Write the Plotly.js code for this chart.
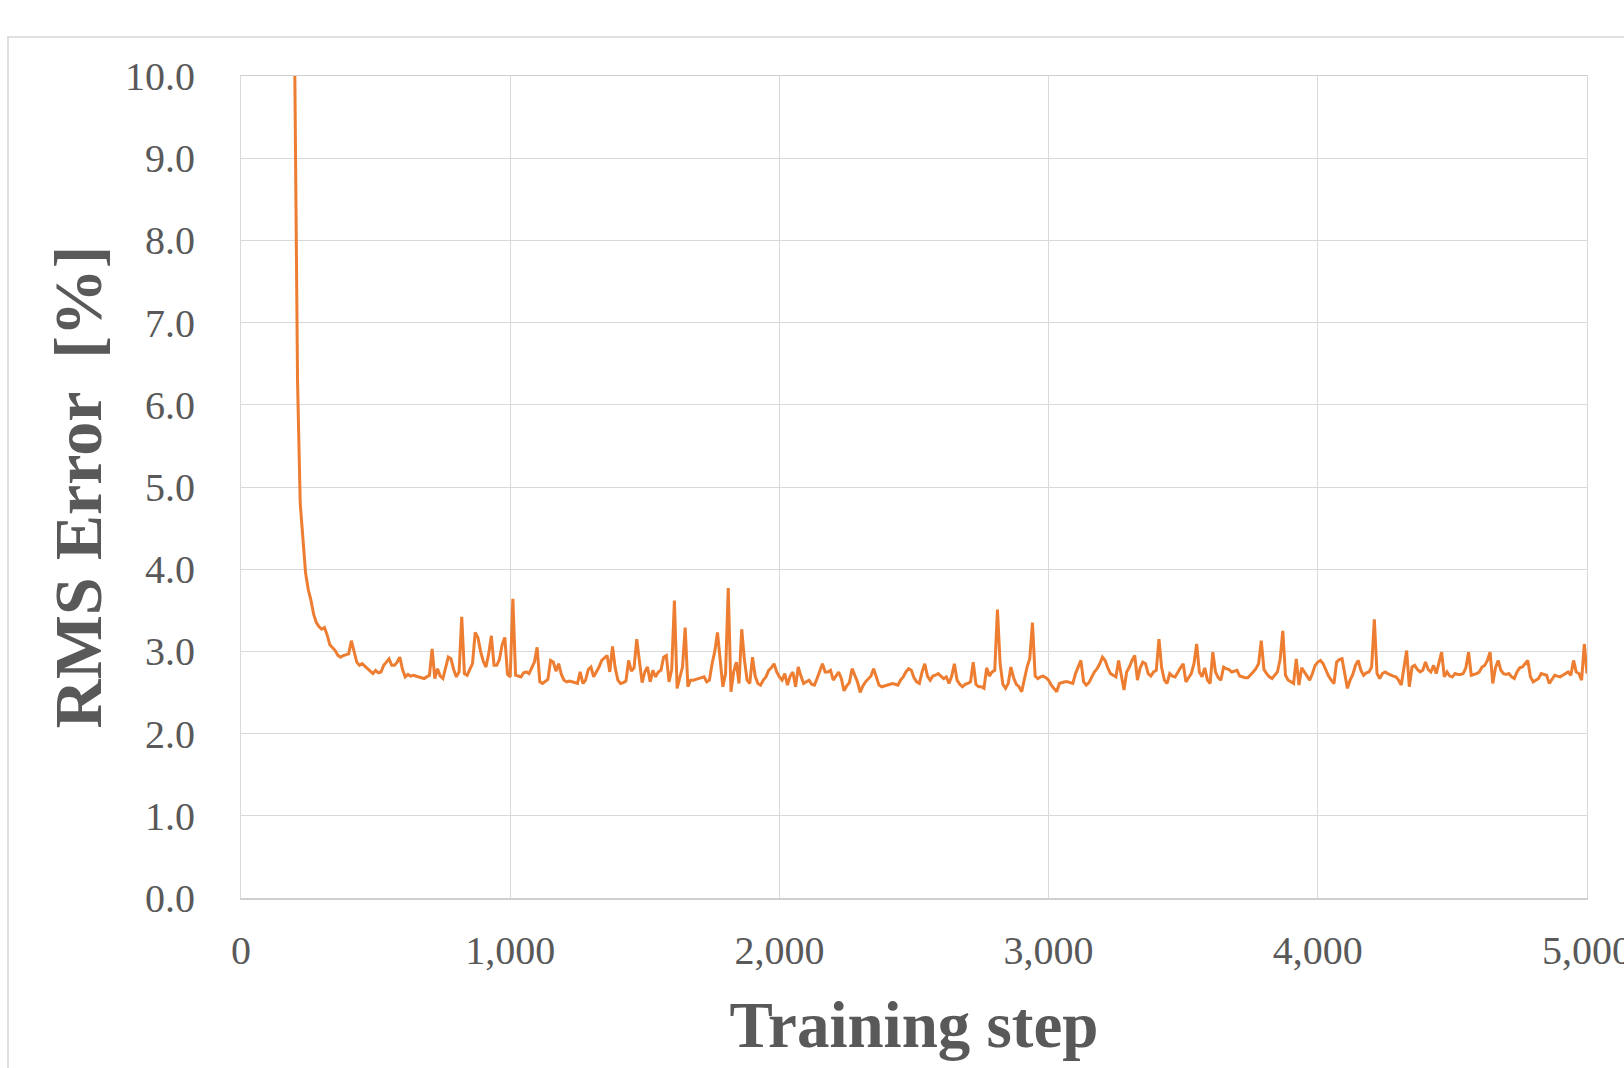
<!DOCTYPE html>
<html>
<head>
<meta charset="utf-8">
<script src="https://cdn.plot.ly/plotly-3.0.1.min.js"></script>
<style>
  html, body { margin: 0; padding: 0; background: #ffffff; }
  #wrap { position: relative; width: 1624px; height: 1068px; overflow: hidden; background: #ffffff; }
  #frame { position: absolute; left: 7px; top: 36px; width: 1700px; height: 1100px;
           border: 2px solid #e0e0e0; box-sizing: border-box; }
  #chart { position: absolute; left: 0; top: 0; width: 1624px; height: 1068px; }
</style>
</head>
<body>
<div id="wrap">
  <div id="frame"></div>
  <div id="chart"></div>
</div>
<script>
// Training steps of the early, steep part of the curve
const earlySteps = [200, 210, 220, 230, 240, 250, 260, 270, 280, 290];
const earlyRms   = [10.0, 6.3, 4.8, 4.35, 3.95, 3.75, 3.62, 3.45, 3.35, 3.30];

// RMS error [%] logged every 10 steps from step 300 to 5000
const logStart = 300;
const logInterval = 10;
const rmsError = [
  3.27, 3.29, 3.20, 3.08, 3.05, 3.01, 2.95, 2.93, 2.95, 2.96,
  2.97, 3.13, 3.00, 2.87, 2.83, 2.85, 2.82, 2.79, 2.77, 2.73,
  2.77, 2.74, 2.75, 2.83, 2.87, 2.91, 2.83, 2.83, 2.87, 2.93,
  2.78, 2.69, 2.72, 2.70, 2.71, 2.70, 2.69, 2.68, 2.67, 2.69,
  2.71, 3.03, 2.67, 2.79, 2.70, 2.67, 2.81, 2.93, 2.91, 2.78,
  2.69, 2.75, 3.42, 2.73, 2.71, 2.78, 2.85, 3.23, 3.17, 3.00,
  2.88, 2.81, 2.97, 3.19, 2.83, 2.83, 2.90, 3.08, 3.17, 2.72,
  2.69, 3.64, 2.71, 2.70, 2.69, 2.74, 2.75, 2.73, 2.80, 2.87,
  3.05, 2.63, 2.61, 2.64, 2.66, 2.89, 2.87, 2.76, 2.85, 2.72,
  2.65, 2.63, 2.64, 2.63, 2.62, 2.61, 2.75, 2.61, 2.65, 2.78,
  2.81, 2.69, 2.75, 2.81, 2.89, 2.92, 2.95, 2.75, 3.06, 2.80,
  2.65, 2.61, 2.62, 2.64, 2.89, 2.76, 2.80, 3.15, 2.90, 2.62,
  2.75, 2.81, 2.63, 2.77, 2.69, 2.75, 2.77, 2.93, 2.95, 2.63,
  2.78, 3.62, 2.55, 2.70, 2.81, 3.29, 2.57, 2.65, 2.65, 2.66,
  2.67, 2.68, 2.69, 2.63, 2.65, 2.85, 3.00, 3.23, 2.89, 2.57,
  2.73, 3.77, 2.51, 2.75, 2.87, 2.61, 3.27, 2.90, 2.65, 2.61,
  2.93, 2.70, 2.61, 2.59, 2.65, 2.69, 2.77, 2.80, 2.85, 2.75,
  2.69, 2.65, 2.73, 2.59, 2.70, 2.75, 2.57, 2.81, 2.70, 2.61,
  2.63, 2.65, 2.60, 2.59, 2.67, 2.75, 2.85, 2.75, 2.75, 2.77,
  2.65, 2.70, 2.75, 2.67, 2.52, 2.58, 2.62, 2.79, 2.70, 2.63,
  2.50, 2.58, 2.63, 2.67, 2.70, 2.79, 2.68, 2.59, 2.57, 2.58,
  2.59, 2.60, 2.61, 2.60, 2.59, 2.65, 2.69, 2.75, 2.79, 2.77,
  2.68, 2.63, 2.61, 2.75, 2.85, 2.70, 2.65, 2.70, 2.71, 2.73,
  2.70, 2.67, 2.69, 2.61, 2.70, 2.85, 2.65, 2.60, 2.57, 2.60,
  2.61, 2.63, 2.87, 2.60, 2.57, 2.57, 2.55, 2.80, 2.70, 2.75,
  2.77, 3.51, 2.85, 2.60, 2.55, 2.61, 2.81, 2.68, 2.60, 2.57,
  2.51, 2.65, 2.81, 2.91, 3.35, 2.70, 2.67, 2.69, 2.70, 2.68,
  2.65, 2.59, 2.55, 2.51, 2.61, 2.62, 2.63, 2.63, 2.62, 2.61,
  2.73, 2.80, 2.89, 2.63, 2.59, 2.62, 2.69, 2.75, 2.79, 2.85,
  2.93, 2.89, 2.80, 2.73, 2.71, 2.69, 2.89, 2.69, 2.53, 2.75,
  2.81, 2.89, 2.95, 2.65, 2.80, 2.87, 2.85, 2.73, 2.70, 2.75,
  2.77, 3.15, 2.80, 2.65, 2.61, 2.73, 2.70, 2.69, 2.75, 2.80,
  2.85, 2.63, 2.68, 2.73, 2.85, 3.09, 2.75, 2.69, 2.80, 2.65,
  2.61, 2.99, 2.75, 2.68, 2.65, 2.81, 2.79, 2.78, 2.75, 2.76,
  2.77, 2.70, 2.69, 2.68, 2.68, 2.71, 2.75, 2.79, 2.85, 3.13,
  2.78, 2.73, 2.69, 2.67, 2.71, 2.75, 2.90, 3.25, 2.71, 2.65,
  2.63, 2.61, 2.91, 2.59, 2.80, 2.75, 2.71, 2.65, 2.73, 2.83,
  2.87, 2.89, 2.85, 2.77, 2.70, 2.65, 2.61, 2.87, 2.90, 2.91,
  2.75, 2.55, 2.65, 2.72, 2.83, 2.89, 2.77, 2.71, 2.74, 2.75,
  2.81, 3.39, 2.73, 2.67, 2.73, 2.75, 2.73, 2.71, 2.70, 2.69,
  2.65, 2.59, 2.80, 3.01, 2.57, 2.81, 2.83, 2.78, 2.75, 2.77,
  2.87, 2.78, 2.75, 2.83, 2.73, 2.85, 2.99, 2.69, 2.75, 2.70,
  2.69, 2.73, 2.72, 2.72, 2.73, 2.80, 2.99, 2.71, 2.72, 2.73,
  2.75, 2.81, 2.83, 2.89, 2.99, 2.61, 2.80, 2.89, 2.77, 2.73,
  2.72, 2.73, 2.69, 2.67, 2.75, 2.80, 2.81, 2.85, 2.89, 2.69,
  2.63, 2.65, 2.67, 2.73, 2.72, 2.71, 2.61, 2.66, 2.71, 2.70,
  2.69, 2.71, 2.73, 2.75, 2.71, 2.89, 2.75, 2.73, 2.65, 3.09,
  2.73
];

const xTickValues = [0, 1000, 2000, 3000, 4000, 5000];
const yTickValues = [0, 1, 2, 3, 4, 5, 6, 7, 8, 9, 10];
const xTitle = 'Training step';
const yTitle = 'RMS Error \u00a0[%]';

const steps = earlySteps.concat(rmsError.map((_, i) => logStart + i * logInterval));
const values = earlyRms.concat(rmsError);

const serif = '"Liberation Serif", "Times New Roman", Times, serif';
const gray = '#595959';

const trace = {
  x: steps,
  y: values,
  type: 'scatter',
  mode: 'lines',
  line: { color: '#ED7D31', width: 3 },
  hoverinfo: 'skip',
  showlegend: false
};

const layout = {
  width: 1624,
  height: 1068,
  margin: { l: 241, r: 37, t: 76, b: 170, pad: 0 },
  paper_bgcolor: 'rgba(0,0,0,0)',
  plot_bgcolor: 'rgba(0,0,0,0)',
  font: { family: serif, color: gray },
  showlegend: false,
  xaxis: {
    range: [0, 5000],
    tickmode: 'array',
    tickvals: xTickValues,
    tickformat: ',d',
    ticks: '',
    ticklabelstandoff: 16,
    ticklabeloverflow: 'allow',
    tickfont: { family: serif, size: 40, color: gray },
    showgrid: true,
    gridcolor: '#d9d9d9',
    gridwidth: 1,
    zeroline: false,
    showline: true,
    linecolor: '#d0d0d0',
    linewidth: 1.5,
    mirror: true,
    automargin: false,
    title: { text: '<b>' + xTitle + '</b>', font: { family: serif, size: 65, color: gray }, standoff: 30 }
  },
  yaxis: {
    range: [0, 10],
    tickmode: 'array',
    tickvals: yTickValues,
    tickformat: '.1f',
    ticks: '',
    ticklabelstandoff: 37,
    tickfont: { family: serif, size: 40, color: gray },
    showgrid: true,
    gridcolor: '#d9d9d9',
    gridwidth: 1,
    zeroline: false,
    showline: true,
    linecolor: '#d9d9d9',
    linewidth: 1,
    mirror: true,
    automargin: false,
    title: { text: '<b>' + yTitle + '</b>', font: { family: serif, size: 68, color: gray }, standoff: 1 }
  }
};

Plotly.newPlot('chart', [trace], layout, { staticPlot: true, displayModeBar: false });
</script>
</body>
</html>
